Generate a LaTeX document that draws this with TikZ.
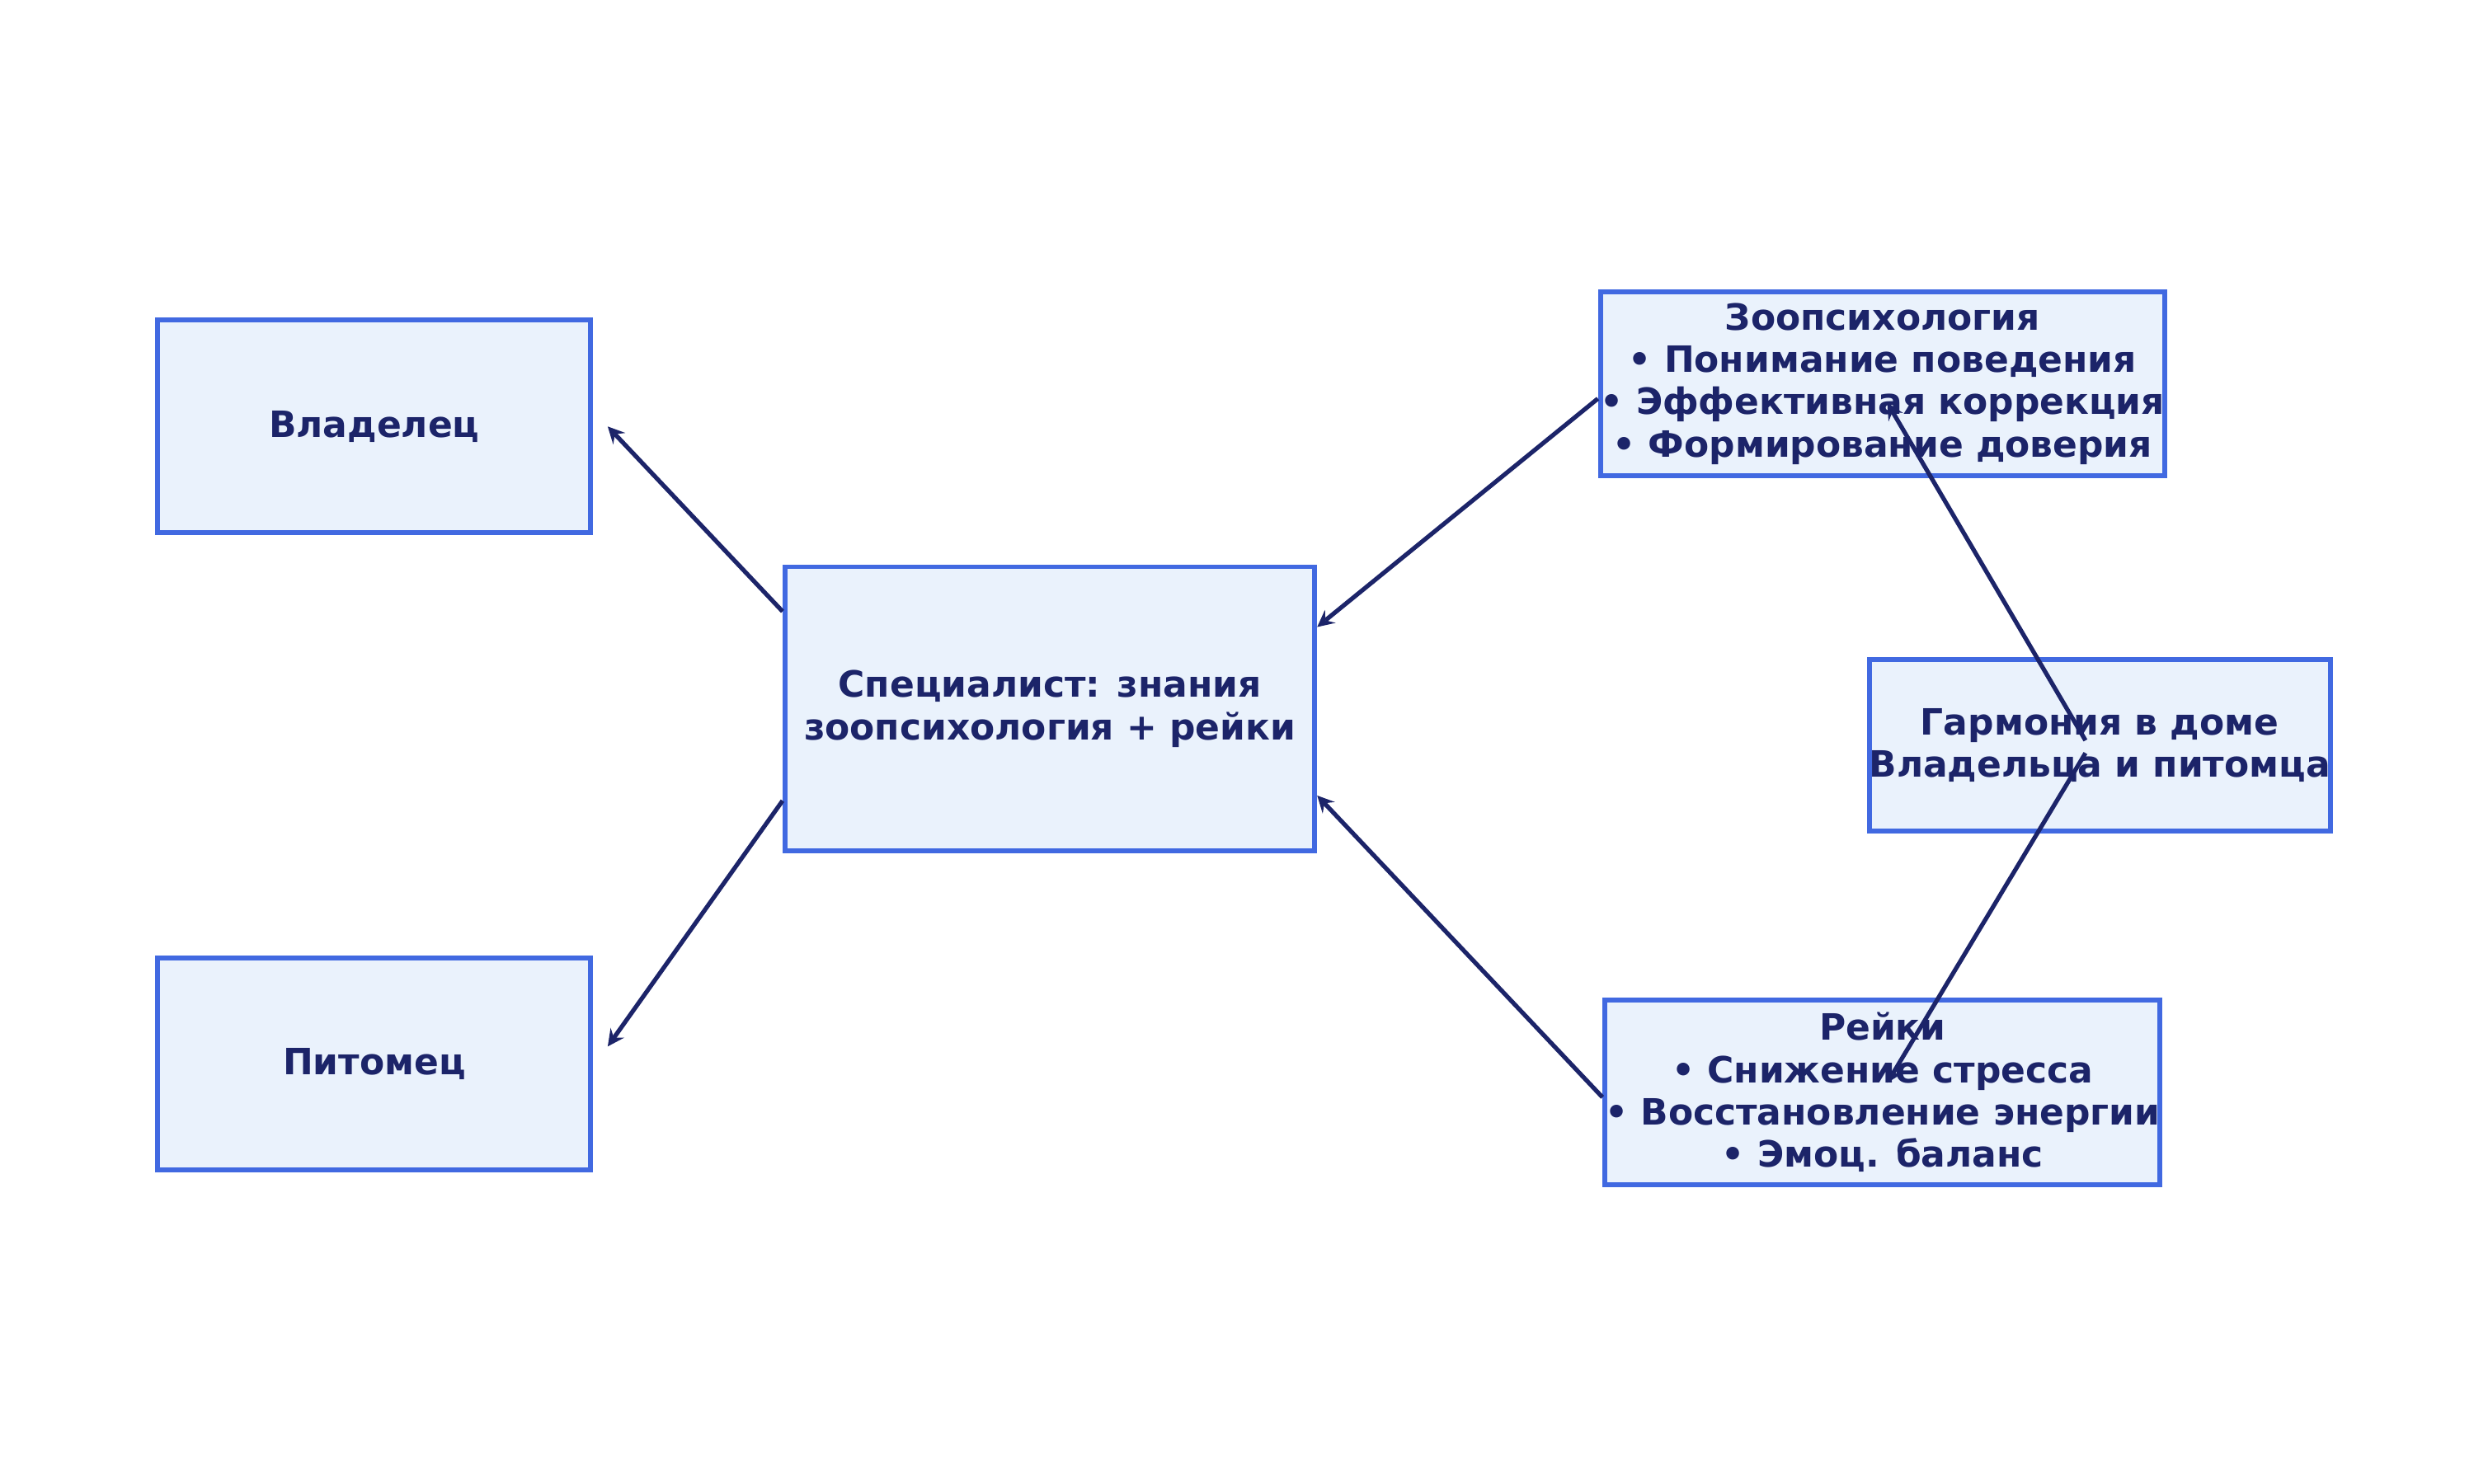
\documentclass[tikz,border=0pt]{standalone}
\usepackage{fontspec}
\setmainfont{DejaVu Sans}
\definecolor{boxline}{HTML}{4169E1}
\definecolor{boxfill}{HTML}{EAF2FC}
\definecolor{ink}{HTML}{1C2469}
\tikzset{
	blk/.style={draw=boxline,fill=boxfill,line width=1.7pt,inner sep=0pt,
		text=ink,font=\fontsize{12.5}{14.6}\selectfont\bfseries,align=center},
	arr/.style={->,>=stealth,draw=ink,line width=1.5pt}
}
\begin{document}
\begin{tikzpicture}[x=0.01923cm,y=-0.01923cm]
\useasboundingbox (0,0) rectangle (1560,936);
\node[blk,minimum width=273*0.01923cm,minimum height=134*0.01923cm] (own) at (236,269) {Владелец};
\node[blk,minimum width=273*0.01923cm,minimum height=134*0.01923cm] (pet) at (236,671) {Питомец};
\node[blk,minimum width=334*0.01923cm,minimum height=179*0.01923cm] (spec) at (662,447) {Специалист: знания\\зоопсихология + рейки};
\node[blk,minimum width=350*0.01923cm,minimum height=116*0.01923cm] (zoo) at (1187,242) {Зоопсихология\\• Понимание поведения\\• Эффективная коррекция\\• Формирование доверия};
\node[blk,minimum width=350*0.01923cm,minimum height=116*0.01923cm] (reiki) at (1187,689) {Рейки\\• Снижение стресса\\• Восстановление энергии\\• Эмоц. баланс};
\node[blk,minimum width=258*0.01923cm,minimum height=108*0.01923cm] (harm) at (1324,470) {Гармония в доме\\Владельца и питомца};
% free ends inside the boxes
\coordinate (h1) at (1315,467);
\coordinate (h2) at (1315,475);
\coordinate (z1) at (1190,254);
\coordinate (r1) at (1190,683);
\draw[arr] (spec.160) -- ([xshift=5]own.east);
\draw[arr] (spec.199) -- ([xshift=5,yshift=6]pet.east);
\draw[arr] (zoo.183) -- (spec.17);
\draw[arr] (reiki.181) -- (spec.342);
\draw[arr] (h1) -- (z1);
\draw[arr] (h2) -- (r1);
\end{tikzpicture}
\end{document}
